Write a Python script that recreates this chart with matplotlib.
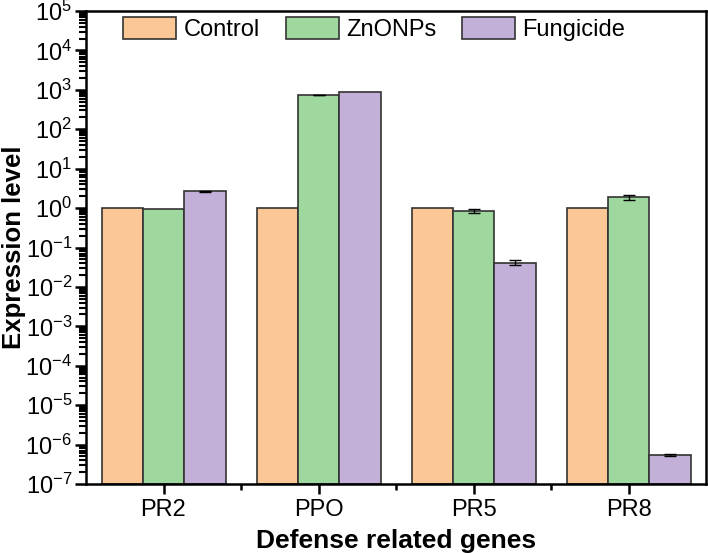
import numpy as np
import matplotlib

matplotlib.use('Agg')
import matplotlib.pyplot as plt
from matplotlib.ticker import FixedLocator, NullFormatter

plt.rcParams['font.family'] = ['Liberation Sans', 'DejaVu Sans']
plt.rcParams['mathtext.fontset'] = 'custom'
plt.rcParams['mathtext.rm'] = 'Liberation Sans'
plt.rcParams['mathtext.it'] = 'Liberation Sans'

# data
genes = ['PR2', 'PPO', 'PR5', 'PR8']
control = [1.0, 1.0, 1.0, 1.0]
znonps = [0.97, 740, 0.85, 1.9]
fungicide = [2.7, 900, 0.041, 5.5e-7]
control_err = [0, 0, 0, 0]
znonps_err = [0.0, 15, 0.12, 0.3]
fungicide_err = [0.08, 0, 0.006, 0.03e-6]

series = ['Control', 'ZnONPs', 'Fungicide']
colors = ['#fbc796', '#9ed89e', '#c2b0d8']

fig = plt.figure(figsize=(7.08, 5.53), dpi=100)
ax = fig.add_axes([86 / 708, 1 - 484 / 553, 620 / 708, 473 / 553])

x = np.arange(1, len(genes) + 1)
w = 0.8 / 3
bottom = 1e-7
for i, (vals, errs) in enumerate(zip([control, znonps, fungicide],
                                     [control_err, znonps_err, fungicide_err])):
    vals = np.array(vals)
    errs = np.array(errs)
    ax.bar(x + (i - 1) * w, vals - bottom, w, bottom=bottom, color=colors[i],
           edgecolor='#333333', linewidth=1.2, label=series[i])
    m = errs > 0
    if m.any():
        ax.errorbar((x + (i - 1) * w)[m], vals[m], yerr=errs[m], fmt='none',
                    ecolor='black', elinewidth=1, capsize=4, capthick=1)

ax.set_yscale('log')
ax.set_ylim(1e-7, 1e5)
ax.set_xlim(0.5, 4.5)
ax.set_yticks([10.0 ** k for k in range(-7, 6)])
minor = [s * 10.0 ** k for k in range(-7, 5) for s in range(2, 10)]
ax.set_yticks(minor, minor=True)
ax.yaxis.set_minor_formatter(NullFormatter())
ax.set_xticks(x)
ax.set_xticklabels(genes)
ax.xaxis.set_minor_locator(FixedLocator([1.5, 2.5, 3.5]))

ax.tick_params(axis='both', which='major', labelsize=17, width=1.8, length=8, direction='out')
ax.tick_params(axis='y', which='major', pad=2)
ax.tick_params(axis='y', which='minor', width=1.5, length=5, direction='out', left=True)
ax.tick_params(axis='x', which='major', length=7)
ax.tick_params(axis='x', which='minor', width=1.8, length=4, direction='out')
for s in ax.spines.values():
    s.set_linewidth(1.8)

ax.set_ylabel('Expression level', fontsize=18.5, fontweight='bold')
ax.yaxis.set_label_coords(-0.097, 0.5)
ax.set_xlabel('Defense related genes', fontsize=19, fontweight='bold', labelpad=6)

ax.legend(loc='upper left', ncol=3, frameon=False, fontsize=17,
          handlelength=2.25, handleheight=1.05, columnspacing=1.1,
          handletextpad=0.3, borderpad=0, borderaxespad=0,
          bbox_to_anchor=(0.06, 0.987))

fig.savefig('out.png', dpi=100)
